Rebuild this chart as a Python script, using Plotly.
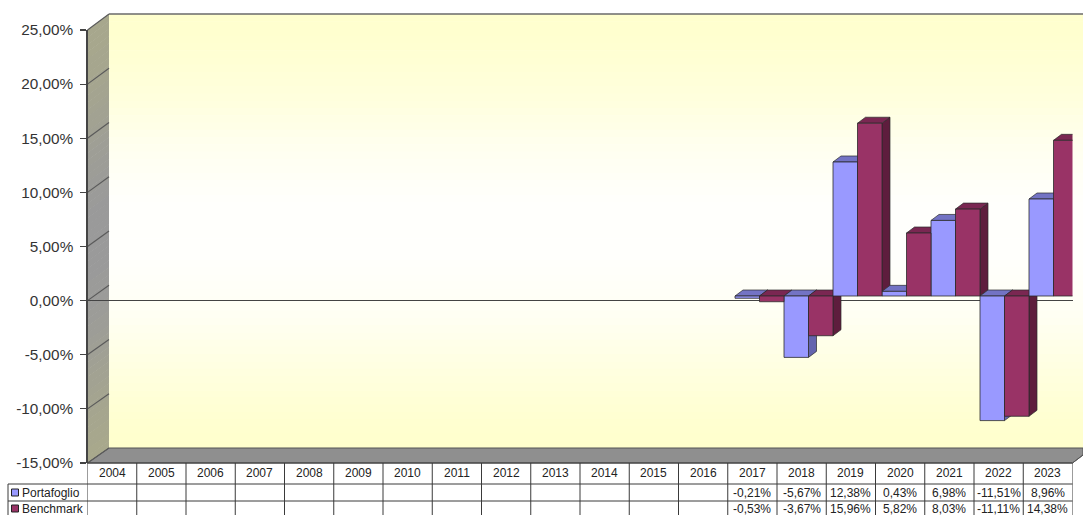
import numpy as np
import plotly.graph_objects as go

# ---------------- data ----------------
years = [str(y) for y in range(2004, 2024)]
portafoglio = [None] * 13 + [-0.21, -5.67, 12.38, 0.43, 6.98, -11.51, 8.96]
benchmark = [None] * 13 + [-0.53, -3.67, 15.96, 5.82, 8.03, -11.11, 14.38]
series_names = ["Portafoglio", "Benchmark"]
y_ticks = [-15, -10, -5, 0, 5, 10, 15, 20, 25]

# ---------------- styling / geometry ----------------
W, H = 1083, 515
FONT = "Liberation Sans, Arial, sans-serif"
front_col = {"Portafoglio": "#9999FF", "Benchmark": "#993366"}
top_col = {"Portafoglio": "#7373C4", "Benchmark": "#7A2752"}
side_col = {"Portafoglio": "#6464AE", "Benchmark": "#5E1D3D"}
edge = "#2b2b2b"


def px(x):
    return x / W


def py(y):
    return 1 - y / H


def pct(v):
    return f"{v:.2f}".replace(".", ",") + "%"


FX0, FX1 = 87.5, 1072.5      # front left / right
FY_TOP, FY_BOT = 30, 463      # front 25% / -15%
BX0 = 109                     # back wall left
BY_TOP, BY_BOT = 14, 448      # back 25% / -15%
scale = (FY_BOT - FY_TOP) / 40.0
BAR_ZERO = 296
CAT_PX = 49.0
CAT0 = 122.5
DX_PX, DY_PX = 8, 6

r0 = (FX0 - CAT0) / CAT_PX
r1 = (FX1 - CAT0) / CAT_PX
yb0 = (BAR_ZERO - FY_BOT) / scale
yb1 = (BAR_ZERO - FY_TOP) / scale
dx = DX_PX / CAT_PX
dy = DY_PX / scale

fig = go.Figure()

vals = {"Portafoglio": portafoglio, "Benchmark": benchmark}
for i in range(len(years)):
    for s_idx, name in enumerate(series_names):
        v = vals[name][i]
        if v is None:
            continue
        xl = i - 0.5 + 0.5 * s_idx
        xr = xl + 0.5
        top = max(v, 0)
        bot = min(v, 0)
        fig.add_trace(go.Scatter(
            x=[xr, xr, xr + dx, xr + dx, xr],
            y=[bot, top, top + dy, bot + dy, bot],
            mode="lines", fill="toself", fillcolor=side_col[name],
            line=dict(color=edge, width=0.7),
            xaxis="x3", yaxis="y3", showlegend=False, hoverinfo="skip"))
        fig.add_trace(go.Scatter(
            x=[xl, xl + dx, xr + dx, xr, xl],
            y=[top, top + dy, top + dy, top, top],
            mode="lines", fill="toself", fillcolor=top_col[name],
            line=dict(color=edge, width=0.7),
            xaxis="x3", yaxis="y3", showlegend=False, hoverinfo="skip"))

for name in series_names:
    fig.add_trace(go.Bar(
        x=list(range(len(years))), y=vals[name], name=name,
        marker=dict(color=front_col[name], line=dict(color=edge, width=0.8)),
        xaxis="x4", yaxis="y4", showlegend=False, hoverinfo="skip"))

shapes = []

_t = [0.0, 0.0625, 0.1875, 0.3125, 0.4375, 0.5625, 0.6875, 0.8125, 0.9375, 1.0]
_b = [206, 208, 220, 240, 252, 252, 244, 225, 208, 204]


def wall_rgb(t, dark=False):
    b = float(np.interp(t, _t, _b))
    w = (b - 204) / 48.0
    if not dark:
        return (255, 255, round(b))
    r = round(168 - 14 * w)
    return (r, r, round(140 + 14 * w))


N = 60
for k in range(N):
    t0, t1 = k / N, (k + 1) / N
    r, g, b = wall_rgb((t0 + t1) / 2)
    y0 = BY_TOP + t0 * (BY_BOT - BY_TOP)
    y1 = BY_TOP + t1 * (BY_BOT - BY_TOP) + 0.6
    shapes.append(dict(type="rect", xref="paper", yref="paper", layer="below",
                       x0=px(BX0), x1=1.0, y0=py(y1), y1=py(y0),
                       fillcolor=f"rgb({r},{g},{b})", line=dict(width=0)))
    r, g, b = wall_rgb((t0 + t1) / 2, dark=True)
    fy0 = FY_TOP + t0 * (FY_BOT - FY_TOP)
    fy1 = FY_TOP + t1 * (FY_BOT - FY_TOP) + 0.6
    by0 = BY_TOP + t0 * (BY_BOT - BY_TOP)
    by1 = BY_TOP + t1 * (BY_BOT - BY_TOP) + 0.6
    path = (f"M {px(FX0)},{py(fy0)} L {px(BX0)},{py(by0)} "
            f"L {px(BX0)},{py(by1)} L {px(FX0)},{py(fy1)} Z")
    shapes.append(dict(type="path", xref="paper", yref="paper", layer="below",
                       path=path, fillcolor=f"rgb({r},{g},{b})", line=dict(width=0)))

floor = (f"M {px(FX0)},{py(FY_BOT)} L {px(BX0)},{py(BY_BOT)} L {px(W)},{py(BY_BOT)} "
         f"L {px(W)},{py(455)} L {px(FX1)},{py(FY_BOT)} Z")
shapes.append(dict(type="path", xref="paper", yref="paper", layer="below",
                   path=floor, fillcolor="#8F8F8F", line=dict(color="#555555", width=1)))

for v in y_ticks:
    fy = FY_BOT - (v + 15) * scale
    by = BY_BOT - (v + 15) * (BY_BOT - BY_TOP) / 40.0
    shapes.append(dict(type="line", xref="paper", yref="paper", layer="below",
                       x0=px(FX0), y0=py(fy), x1=px(BX0), y1=py(by),
                       line=dict(color="#5a5a5a", width=1.2)))
shapes.append(dict(type="line", xref="paper", yref="paper", layer="below",
                   x0=px(BX0), y0=py(BY_TOP), x1=1, y1=py(BY_TOP),
                   line=dict(color="#6a6a6a", width=1.4)))

# ---------- data table ----------
ROW_Y = [473, 492.5, 508.5]
TAB_L = 8
line_c = "#3a3a3a"
for y in (484, 501):
    shapes.append(dict(type="line", xref="paper", yref="paper", x0=px(TAB_L), x1=px(FX1),
                       y0=py(y), y1=py(y), line=dict(color=line_c, width=1)))
shapes.append(dict(type="line", xref="paper", yref="paper", x0=px(FX0), x1=px(FX1),
                   y0=py(FY_BOT), y1=py(FY_BOT), line=dict(color=line_c, width=1)))
for j in range(len(years) + 1):
    shapes.append(dict(type="line", xref="x2", yref="paper", x0=j - 0.5, x1=j - 0.5,
                       y0=py(FY_BOT), y1=0, line=dict(color=line_c, width=1)))
shapes.append(dict(type="line", xref="paper", yref="paper", x0=px(TAB_L), x1=px(TAB_L),
                   y0=py(484), y1=0, line=dict(color=line_c, width=1)))
shapes.append(dict(type="line", xref="paper", yref="paper", x0=px(FX1), x1=px(W),
                   y0=py(FY_BOT), y1=py(455), line=dict(color="#555555", width=1)))
for k, name in enumerate(series_names):
    yc = ROW_Y[k + 1]
    shapes.append(dict(type="rect", xref="paper", yref="paper",
                       x0=px(11.5), x1=px(18.5), y0=py(yc + 3.5), y1=py(yc - 3.5),
                       fillcolor=front_col[name], line=dict(color="#222", width=1)))

annotations = []
tab_font = dict(family=FONT, size=12, color="#222")
for j, yr in enumerate(years):
    annotations.append(dict(x=j, y=py(ROW_Y[0]), xref="x2", yref="paper", text=yr,
                            showarrow=False, font=tab_font, xanchor="center", yanchor="middle"))
for k, name in enumerate(series_names):
    annotations.append(dict(x=px(20), y=py(ROW_Y[k + 1]), xref="paper", yref="paper",
                            text=name, showarrow=False, font=tab_font,
                            xanchor="left", yanchor="middle"))
    for j, v in enumerate(vals[name]):
        if v is None:
            continue
        annotations.append(dict(x=j, y=py(ROW_Y[k + 1]), xref="x2", yref="paper", text=pct(v),
                                showarrow=False, font=tab_font,
                                xanchor="center", yanchor="middle"))

hidden = dict(visible=False, fixedrange=True, automargin=False)
fig.update_layout(
    template="none",
    width=W, height=H, autosize=False,
    margin=dict(l=0, r=0, t=0, b=0, pad=0, autoexpand=False),
    paper_bgcolor="white", plot_bgcolor="rgba(0,0,0,0)",
    barmode="group", bargap=0, bargroupgap=0,
    showlegend=False,
    font=dict(family=FONT, color="#333"),
    xaxis=dict(domain=[px(BX0), 1], range=[0, 1], showgrid=False, zeroline=False,
               showticklabels=False, ticks="", showline=False, fixedrange=True,
               anchor="y", automargin=False),
    yaxis=dict(domain=[py(BY_BOT), py(BY_TOP)], range=[-15, 25], tickvals=y_ticks,
               showgrid=True, gridcolor="#777777", gridwidth=1.3, zeroline=False,
               showticklabels=False, ticks="", showline=False, fixedrange=True,
               anchor="x", automargin=False),
    xaxis2=dict(domain=[px(FX0), px(FX1)], range=[-0.5, len(years) - 0.5], showgrid=False,
                zeroline=False, showticklabels=False, ticks="", showline=False,
                fixedrange=True, anchor="y2", automargin=False),
    yaxis2=dict(domain=[py(FY_BOT), py(FY_TOP)], range=[-15, 25], tickmode="array",
                tickvals=y_ticks, ticktext=[pct(v) for v in y_ticks], showgrid=False,
                zeroline=True, zerolinecolor="#444444", zerolinewidth=1.2,
                showline=True, linecolor="#444444", linewidth=1.2,
                ticks="outside", ticklen=6, tickcolor="#444444", tickwidth=1.2,
                ticklabelstandoff=4,
                tickfont=dict(family=FONT, size=15.3, color="#333"),
                fixedrange=True, anchor="x2", automargin=False),
    xaxis3=dict(overlaying="x2", range=[r0, r1], **hidden),
    yaxis3=dict(overlaying="y2", range=[yb0, yb1], **hidden),
    xaxis4=dict(overlaying="x2", range=[r0, r1], **hidden),
    yaxis4=dict(overlaying="y2", range=[yb0, yb1], **hidden),
    shapes=shapes,
    annotations=annotations,
)

fig.write_html("out.html", config={"displayModeBar": False, "staticPlot": True},
               post_script="document.body.style.margin='0';document.body.style.overflow='hidden';")
